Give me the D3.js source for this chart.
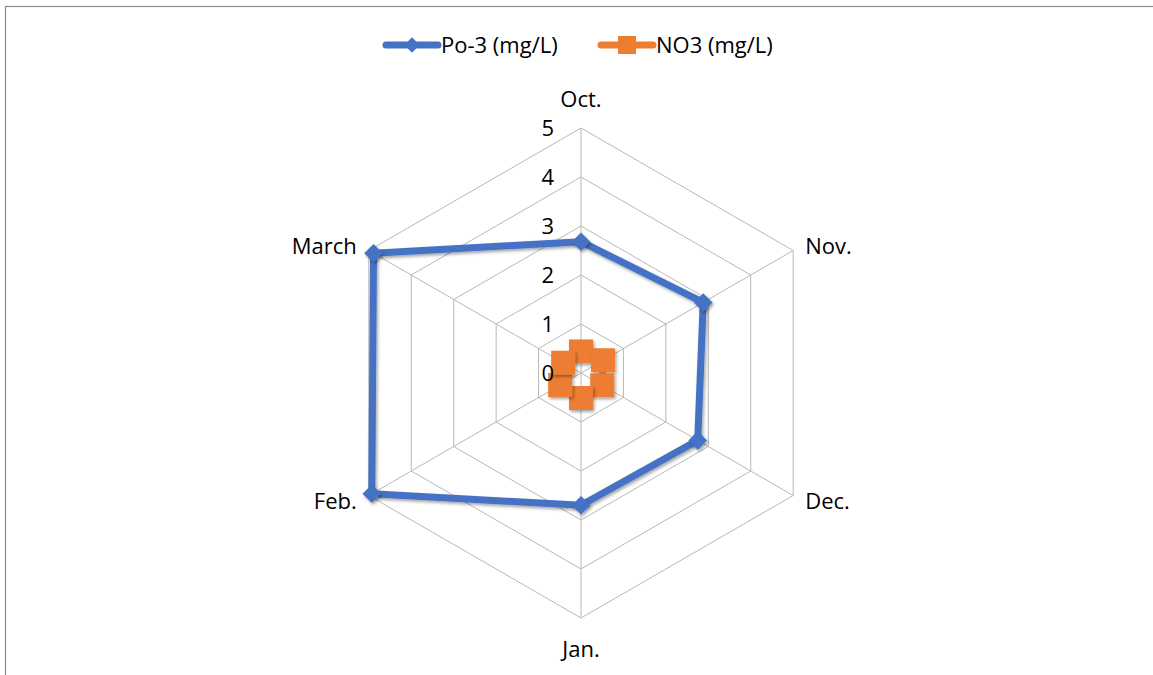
<!DOCTYPE html>
<html><head><meta charset="utf-8">
<script src="https://cdn.jsdelivr.net/npm/d3@7"></script>
<style>body{margin:0;background:#fff}svg{display:block;font-family:"Open Sans",Lato,sans-serif}</style>
</head><body><svg id="c" width="1153" height="675"></svg>
<script>
const categories = ["Oct.", "Nov.", "Dec.", "Jan.", "Feb.", "March"];
const po3 = [2.68, 2.88, 2.75, 2.7, 4.93, 4.89];
const no3 = [0.44, 0.52, 0.5, 0.51, 0.49, 0.42];
const tickValues = [0, 1, 2, 3, 4, 5];
const seriesNames = ["Po-3 (mg/L)", "NO3 (mg/L)"];

const svg = d3.select("#c");
const cx = 581, cy = 373, R = 245;
const r = d3.scaleLinear().domain([0, 5]).range([0, R]);
const ang = d3.scalePoint().domain(categories).range([0, 2 * Math.PI * (categories.length - 1) / categories.length]);
const pt = (c, v) => [cx + r(v) * Math.sin(ang(c)), cy - r(v) * Math.cos(ang(c))];
const FS = 22;

const defs = svg.append("defs");
const f = defs.append("filter").attr("id", "sh").attr("x", "-50%").attr("y", "-50%").attr("width", "200%").attr("height", "200%");
f.append("feDropShadow").attr("dx", 1.5).attr("dy", 2).attr("stdDeviation", 1.8).attr("flood-color", "#000").attr("flood-opacity", 0.35);

// outer frame
svg.append("rect").attr("x", 5.5).attr("y", 6.5).attr("width", 1200).attr("height", 700)
  .attr("fill", "none").attr("stroke", "#8c8c8c").attr("stroke-width", 1.2);

const g = svg.append("g");
// grid rings
tickValues.slice(1).forEach(t => {
  g.append("polygon").attr("points", categories.map(c => pt(c, t).join(",")).join(" "))
    .attr("fill", "none").attr("stroke", "#b8b8b8").attr("stroke-width", 1);
});
// spokes
categories.forEach(c => {
  const [x, y] = pt(c, 5);
  g.append("line").attr("x1", cx).attr("y1", cy).attr("x2", x).attr("y2", y)
    .attr("stroke", "#b8b8b8").attr("stroke-width", 1);
});
// category labels
categories.forEach(c => {
  const a = ang(c);
  const [x, y] = pt(c, 5);
  const s = Math.sin(a), co = Math.cos(a);
  let anchor = "middle", dx = 0, dy = 0;
  if (Math.abs(s) < 0.01) { dy = co > 0 ? -21 : 39; }
  else { anchor = s > 0 ? "start" : "end"; dx = s > 0 ? 12 : -12; dy = co > 0 ? 3 : 13; }
  g.append("text").attr("x", x + dx).attr("y", y + dy).attr("text-anchor", anchor)
    .attr("font-size", FS).attr("fill", "#000").text(c);
});

const line = d3.line().curve(d3.curveLinearClosed);
// NO3 series
g.append("path").attr("d", line(categories.map((c, i) => pt(c, no3[i]))))
  .attr("fill", "none").attr("stroke", "#ED7D31").attr("stroke-width", 7).attr("stroke-linejoin", "round");
// Po-3 series
g.append("path").attr("d", line(categories.map((c, i) => pt(c, po3[i]))))
  .attr("fill", "none").attr("stroke", "#4472C4").attr("stroke-width", 7).attr("stroke-linejoin", "round")
  .attr("filter", "url(#sh)");
// Po-3 markers (diamonds)
categories.forEach((c, i) => {
  const [x, y] = pt(c, po3[i]);
  g.append("path").attr("d", d3.symbol(d3.symbolDiamond2, 220)())
    .attr("transform", `translate(${x},${y})`).attr("fill", "#4472C4").attr("filter", "url(#sh)");
});
// NO3 markers (squares)
categories.forEach((c, i) => {
  const [x, y] = pt(c, no3[i]);
  g.append("rect").attr("x", x - 12).attr("y", y - 12).attr("width", 24).attr("height", 24)
    .attr("fill", "#ED7D31").attr("filter", "url(#sh)");
});
// tick labels (drawn on top)
tickValues.forEach(t => {
  g.append("text").attr("x", cx - 27).attr("y", cy - r(t) + 8).attr("text-anchor", "end")
    .attr("font-size", FS).attr("fill", "#000").text(t);
});

// legend
const leg = svg.append("g");
const legX = [383, 598];
const colors = ["#4472C4", "#ED7D31"];
seriesNames.forEach((n, i) => {
  const x0 = legX[i], y0 = 45;
  leg.append("line").attr("x1", x0 + 3).attr("x2", x0 + 55).attr("y1", y0).attr("y2", y0)
    .attr("stroke", colors[i]).attr("stroke-width", 7).attr("stroke-linecap", "round");
  if (i === 0) {
    leg.append("path").attr("d", d3.symbol(d3.symbolDiamond2, 150)()).attr("transform", `translate(${x0 + 29},${y0})`).attr("fill", colors[i]);
  } else {
    leg.append("rect").attr("x", x0 + 20).attr("y", y0 - 9).attr("width", 18).attr("height", 18).attr("fill", colors[i]);
  }
  leg.append("text").attr("x", x0 + 58).attr("y", y0 + 8).attr("font-size", FS).attr("fill", "#000").text(n);
});
</script></body></html>
